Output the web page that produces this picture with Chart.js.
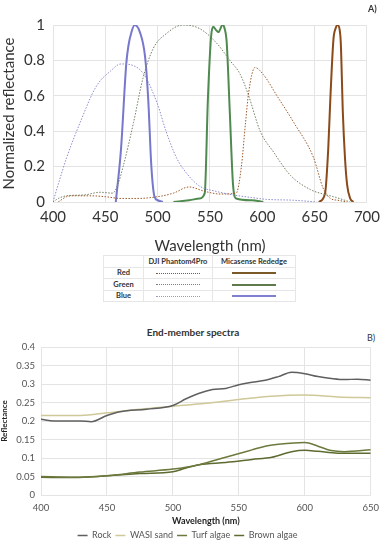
<!DOCTYPE html>
<html>
<head>
<meta charset="utf-8">
<script src="https://cdn.jsdelivr.net/npm/chart.js@4.4.0/dist/chart.umd.min.js"></script>
<style>
  body { margin: 0; background: #fff; font-family: Lato, "Open Sans", sans-serif; }
  #wrap { position: relative; width: 386px; height: 550px; overflow: hidden; }
  .lbl { position: absolute; font-weight: bold; color: #333; }
  #legA { position: absolute; left: 103px; top: 255px; border-collapse: collapse; font-size: 7.5px; font-weight: bold; color: #333; table-layout: fixed; }
  #legA td { border: 1px solid #e6e6e6; height: 10.5px; padding: 0; text-align: center; white-space: nowrap; }
  .ln { display: inline-block; width: 44px; vertical-align: middle; }
</style>
</head>
<body>
<div id="wrap">
  <canvas id="chartA" style="position:absolute;left:0;top:0"></canvas>
  <div class="lbl" style="left:368px;top:3px;font-size:9px;">A)</div>
  <table id="legA">
    <tr><td style="width:39px"></td><td style="width:68px">DJI Phantom4Pro</td><td style="width:82px">Micasense Rededge</td></tr>
    <tr><td>Red</td><td><span class="ln" style="border-top:1px dotted #8a5a2a"></span></td><td><span class="ln" style="border-top:2px solid #7a5a28"></span></td></tr>
    <tr><td>Green</td><td><span class="ln" style="border-top:1px dotted #7a8070"></span></td><td><span class="ln" style="border-top:2px solid #5f7a4a"></span></td></tr>
    <tr><td>Blue</td><td><span class="ln" style="border-top:1px dotted #9a9ad8"></span></td><td><span class="ln" style="border-top:2px solid #8080d0"></span></td></tr>
  </table>
  <div class="lbl" style="left:0;width:386px;top:326px;font-size:10px;text-align:center;">End-member spectra</div>
  <div class="lbl" style="left:367px;top:332px;font-size:9px;font-weight:normal;">B)</div>
  <canvas id="chartB" style="position:absolute;left:0;top:320px"></canvas>
</div>
<script>
// ---- A) sensor band responses ----
const micaBlueX  = [460, 465, 470, 472, 475, 478, 483, 488, 491, 494, 497, 500, 505];
const micaBlueY  = [0, 0.3, 0.78, 0.88, 0.96, 1.0, 0.96, 0.82, 0.58, 0.2, 0.03, 0.01, 0];
const micaGreenX = [515, 530, 540, 545, 548, 551, 553, 556, 558, 562, 564, 566, 569, 572, 575, 590, 601];
const micaGreenY = [0, 0.01, 0.02, 0.05, 0.58, 0.93, 0.99, 0.97, 0.96, 1.0, 0.98, 0.9, 0.5, 0.1, 0.02, 0.01, 0];
const micaRedX   = [654, 660, 663, 665, 668, 670, 672, 674, 675, 677, 679, 681, 684, 687];
const micaRedY   = [0, 0.05, 0.3, 0.58, 0.92, 0.98, 1.0, 0.97, 0.9, 0.5, 0.25, 0.1, 0.02, 0];

const djiBlueX  = [400, 405, 413, 426, 441, 455, 465, 477, 487, 500, 508, 518, 528, 540, 556, 572, 590, 604, 630, 652];
const djiBlueY  = [0, 0.1, 0.25, 0.45, 0.65, 0.74, 0.78, 0.77, 0.72, 0.55, 0.4, 0.25, 0.16, 0.09, 0.06, 0.04, 0.025, 0.015, 0.01, 0];
const djiGreenX = [400, 405, 413, 430, 445, 457, 462, 467, 477, 486, 496, 508, 524, 540, 556, 569, 579, 587, 598, 611, 627, 646, 658, 668, 684];
const djiGreenY = [0, 0.02, 0.035, 0.04, 0.055, 0.05, 0.1, 0.2, 0.45, 0.7, 0.87, 0.95, 1.0, 0.98, 0.9, 0.8, 0.72, 0.6, 0.4, 0.28, 0.15, 0.07, 0.045, 0.03, 0];
const djiRedX   = [405, 413, 420, 435, 450, 465, 480, 500, 515, 530, 545, 560, 575, 580, 584, 587, 593, 601, 614, 630, 649, 658, 665, 672, 681];
const djiRedY   = [0, 0.03, 0.035, 0.035, 0.03, 0.02, 0.02, 0.03, 0.05, 0.085, 0.06, 0.045, 0.05, 0.2, 0.45, 0.62, 0.76, 0.72, 0.6, 0.45, 0.25, 0.08, 0.02, 0.01, 0];

// ---- B) end-member spectra ----
const rockX  = [400, 410, 420, 430, 438, 450, 460, 480, 500, 510, 520, 530, 540, 550, 560, 570, 580, 590, 600, 610, 620, 630, 640, 650];
const rockY  = [0.205, 0.2, 0.2, 0.2, 0.198, 0.215, 0.225, 0.232, 0.242, 0.26, 0.275, 0.285, 0.288, 0.298, 0.305, 0.31, 0.32, 0.332, 0.328, 0.32, 0.315, 0.312, 0.313, 0.31];
const sandX  = [400, 430, 450, 475, 500, 525, 550, 575, 600, 625, 650];
const sandY  = [0.215, 0.215, 0.222, 0.232, 0.24, 0.248, 0.258, 0.267, 0.27, 0.265, 0.263];
const turfX  = [400, 425, 450, 475, 500, 520, 540, 560, 570, 580, 600, 610, 620, 630, 650];
const turfY  = [0.05, 0.048, 0.052, 0.062, 0.07, 0.082, 0.102, 0.122, 0.132, 0.137, 0.142, 0.132, 0.12, 0.117, 0.122];
const brownX = [400, 425, 450, 475, 500, 510, 520, 540, 560, 575, 590, 600, 610, 625, 650];
const brownY = [0.048, 0.047, 0.052, 0.058, 0.063, 0.073, 0.082, 0.088, 0.096, 0.102, 0.117, 0.121, 0.118, 0.113, 0.113];

const pts = (xs, ys) => xs.map((x, i) => ({ x: x, y: ys[i] }));
const font = 'Lato, "Open Sans", sans-serif';
const grid = '#e4e4e4';
const trim = v => String(Number(v.toFixed(2)));

function line(label, xs, ys, color, dotted, w) {
  return {
    label: label, data: pts(xs, ys), borderColor: color, backgroundColor: color,
    borderWidth: w, borderDash: dotted ? [1.5, 1.5] : [], pointRadius: 0,
    cubicInterpolationMode: 'monotone', fill: false
  };
}

const cA = document.getElementById('chartA');
cA.width = 386; cA.height = 255;
new Chart(cA, {
  type: 'line',
  data: {
    datasets: [
      line('DJI Red', djiRedX, djiRedY, '#9b5a2a', true, 1),
      line('DJI Green', djiGreenX, djiGreenY, '#6f8060', true, 1),
      line('DJI Blue', djiBlueX, djiBlueY, '#8a8ad0', true, 1),
      line('Micasense Blue', micaBlueX, micaBlueY, '#7777cc', false, 2),
      line('Micasense Green', micaGreenX, micaGreenY, '#4f8a4f', false, 2),
      line('Micasense Red', micaRedX, micaRedY, '#8a4a1c', false, 2)
    ]
  },
  options: {
    responsive: false, animation: false,
    layout: { padding: { left: 0, right: 19, top: 25, bottom: 0 } },
    plugins: { legend: { display: false }, tooltip: { enabled: false } },
    scales: {
      x: {
        type: 'linear', min: 400, max: 700,
        ticks: { stepSize: 50, color: '#333', font: { family: font, size: 15 }, padding: 6 },
        grid: { color: grid, drawTicks: false },
        border: { display: false },
        title: { display: true, text: 'Wavelength (nm)', color: '#333', font: { family: font, size: 15 }, padding: 0 },
        afterFit: s => { s.height = 53; }
      },
      y: {
        min: 0, max: 1,
        ticks: { stepSize: 0.2, color: '#333', font: { family: font, size: 15 }, padding: 8, callback: trim },
        grid: { color: grid, drawTicks: false },
        border: { display: false },
        title: { display: true, text: 'Normalized reflectance', color: '#333', font: { family: font, size: 15 }, padding: 0 },
        afterFit: s => { s.width = 53; }
      }
    }
  }
});

const cB = document.getElementById('chartB');
cB.width = 386; cB.height = 230;
new Chart(cB, {
  type: 'line',
  data: {
    datasets: [
      line('Rock', rockX, rockY, '#5f5f5f', false, 1.5),
      line('WASI sand', sandX, sandY, '#cfc898', false, 1.5),
      line('Turf algae', turfX, turfY, '#6b7a3c', false, 1.5),
      line('Brown algae', brownX, brownY, '#5d6a30', false, 1.5)
    ]
  },
  options: {
    responsive: false, animation: false,
    layout: { padding: { left: 0, right: 11, top: 27, bottom: 0 } },
    plugins: {
      tooltip: { enabled: false },
      legend: {
        position: 'bottom',
        labels: { usePointStyle: true, pointStyle: 'line', pointStyleWidth: 10, boxHeight: 8, padding: 4, color: '#555', font: { family: font, size: 9 } }
      }
    },
    scales: {
      x: {
        type: 'linear', min: 400, max: 650,
        ticks: { stepSize: 50, color: '#555', font: { family: font, size: 9.5 }, padding: 7 },
        grid: { color: grid, drawTicks: false },
        border: { display: false },
        title: { display: true, text: 'Wavelength (nm)', color: '#222', font: { family: font, size: 9, weight: 'bold' }, padding: { top: 0, bottom: 1 } },
        afterFit: s => { s.height = 32; }
      },
      y: {
        min: 0, max: 0.4,
        ticks: { stepSize: 0.05, color: '#555', font: { family: font, size: 9.5 }, padding: 6, callback: trim },
        grid: { color: grid, drawTicks: false },
        border: { display: false },
        title: { display: true, text: 'Reflectance', color: '#222', font: { family: font, size: 8, weight: 'bold' }, padding: 0 },
        afterFit: s => { s.width = 41; }
      }
    }
  }
});
</script>
</body>
</html>
